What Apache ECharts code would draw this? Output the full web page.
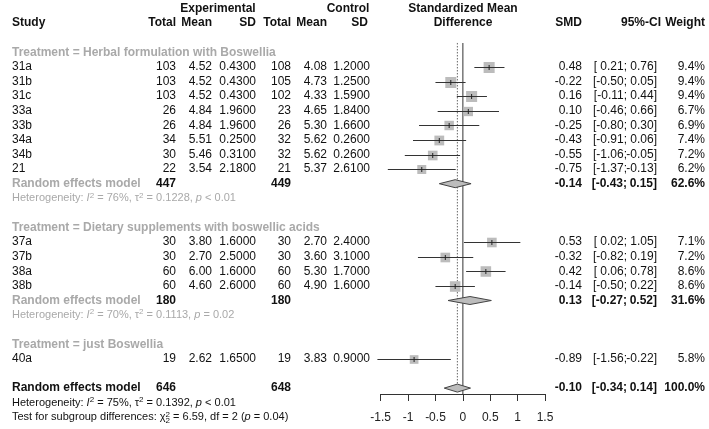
<!DOCTYPE html>
<html>
<head>
<meta charset="utf-8">
<title>Forest plot - Boswellia</title>
<script src="https://cdn.jsdelivr.net/npm/echarts@6/dist/echarts.min.js"></script>
<style>
  html, body { margin: 0; padding: 0; background: #fff; }
  #main { width: 709px; height: 429px; }
</style>
</head>
<body>
<div id="main"></div>
<script type="text/javascript">

// ---- data ----
var groupNames = ['Herbal formulation with Boswellia', 'Dietary supplements with boswellic acids', 'just Boswellia'];

var studies   = ['31a', '31b', '31c', '33a', '33b', '34a', '34b', '21', '37a', '37b', '38a', '38b', '40a'];
var studyGroup = [0, 0, 0, 0, 0, 0, 0, 0, 1, 1, 1, 1, 2];
var expTotal  = [103, 103, 103, 26, 26, 34, 30, 22, 30, 30, 60, 60, 19];
var expMean   = [4.52, 4.52, 4.52, 4.84, 4.84, 5.51, 5.46, 3.54, 3.80, 2.70, 6.00, 4.60, 2.62];
var expSD     = [0.43, 0.43, 0.43, 1.96, 1.96, 0.25, 0.31, 2.18, 1.60, 2.50, 1.60, 2.60, 1.65];
var ctlTotal  = [108, 105, 102, 23, 26, 32, 32, 21, 30, 30, 60, 60, 19];
var ctlMean   = [4.08, 4.73, 4.33, 4.65, 5.30, 5.62, 5.62, 5.37, 2.70, 3.60, 5.30, 4.90, 3.83];
var ctlSD     = [1.20, 1.25, 1.59, 1.84, 1.66, 0.26, 0.26, 2.61, 2.40, 3.10, 1.70, 1.60, 0.90];
var smd       = [0.48, -0.22, 0.16, 0.10, -0.25, -0.43, -0.55, -0.75, 0.53, -0.32, 0.42, -0.14, -0.89];
var ciLow     = [0.21, -0.50, -0.11, -0.46, -0.80, -0.91, -1.06, -1.37, 0.02, -0.82, 0.06, -0.50, -1.56];
var ciHigh    = [0.76, 0.05, 0.44, 0.66, 0.30, 0.06, -0.05, -0.13, 1.05, 0.19, 0.78, 0.22, -0.22];
var weight    = [9.4, 9.4, 9.4, 6.7, 6.9, 7.4, 7.2, 6.2, 7.1, 7.2, 8.6, 8.6, 5.8];

// subgroup random effects (groups with more than one study)
var subExpTotal = [447, 180];
var subCtlTotal = [449, 180];
var subSMD      = [-0.14, 0.13];
var subLow      = [-0.43, -0.27];
var subHigh     = [0.15, 0.52];
var subWeight   = [62.6, 31.6];
var subI2       = [76, 70];
var subTau2     = ['0.1228', '0.1113'];
var subP        = ['< 0.01', '= 0.02'];

// overall
var allExpTotal = 646, allCtlTotal = 648;
var allSMD = -0.10, allLow = -0.34, allHigh = 0.14, allWeight = 100.0;
var allI2 = 75, allTau2 = '0.1392', allP = '< 0.01';
var testChi2 = '6.59', testDf = 2, testP = '0.04';

var xTicks = [-1.5, 1.5, 0.5]; // min, max, interval

// ---- layout ----
var FONT = '"Liberation Sans", Arial, sans-serif';
var GRAY = '#a9a9a9';
var BLACK = '#111';
var col = { study: 12, eTot: 176, eMean: 212, eSD: 256, cTot: 291, cMean: 327, cSD: 370,
            smd: 582, ciLo: 627, ciHi: 657, ciHead: 661, w: 705, plot: 463 };

function font(size, bold, italic) {
    return (italic ? 'italic ' : '') + (bold ? 'bold ' : '') + size + 'px ' + FONT;
}
function f2(v) { return v.toFixed(2); }
function loTxt(v) { return '[' + (v >= 0 ? ' ' : '') + v.toFixed(2) + ';'; }
function hiTxt(v) { return v.toFixed(2) + ']'; }
function pct(v) { return v.toFixed(1) + '%'; }

function hetRich(color) {
    return {
        n:   { font: font(11), fill: color, lineHeight: 14 },
        i:   { font: font(11, false, true), fill: color, lineHeight: 14 },
        sup: { font: font(8), fill: color, lineHeight: 8, verticalAlign: 'top' },
        sup0:{ font: font(8), fill: color, lineHeight: 8, verticalAlign: 'top', width: 0 },
        sub: { font: font(8), fill: color, lineHeight: 8, verticalAlign: 'bottom' }
    };
}

// build rows
var cells = [];
function cell(row, x, text, align, size, bold, color, rich) {
    cells.push({ row: row, x: x, text: text, align: align, size: size || 12, bold: !!bold, color: color || BLACK, rich: rich });
}

// header
cell(-3, 218, 'Experimental', 'center', 12, true);
cell(-3, 348, 'Control', 'center', 12, true);
cell(-3, col.plot, 'Standardized Mean', 'center', 12, true);
cell(-2, col.plot, 'Difference', 'center', 12, true);
cell(-2, col.study, 'Study', 'left', 12, true);
cell(-2, col.eTot, 'Total', 'right', 12, true);
cell(-2, col.eMean, 'Mean', 'right', 12, true);
cell(-2, col.eSD, 'SD', 'right', 12, true);
cell(-2, col.cTot, 'Total', 'right', 12, true);
cell(-2, col.cMean, 'Mean', 'right', 12, true);
cell(-2, col.cSD - 2, 'SD', 'right', 12, true);
cell(-2, col.smd, 'SMD', 'right', 12, true);
cell(-2, col.ciHead, '95%-CI', 'right', 12, true);
cell(-2, col.w, 'Weight', 'right', 12, true);

var studyRows = [];
var subRows = [];
var r = 0;
groupNames.forEach(function (g, gi) {
    cell(r, col.study, 'Treatment = ' + g, 'left', 12, true, GRAY);
    r++;
    var n = 0;
    studies.forEach(function (s, i) {
        if (studyGroup[i] !== gi) return;
        studyRows[i] = r;
        cell(r, col.study, s, 'left');
        cell(r, col.eTot, String(expTotal[i]), 'right');
        cell(r, col.eMean, f2(expMean[i]), 'right');
        cell(r, col.eSD, expSD[i].toFixed(4), 'right');
        cell(r, col.cTot, String(ctlTotal[i]), 'right');
        cell(r, col.cMean, f2(ctlMean[i]), 'right');
        cell(r, col.cSD, ctlSD[i].toFixed(4), 'right');
        cell(r, col.smd, f2(smd[i]), 'right');
        cell(r, col.ciLo, loTxt(ciLow[i]), 'right');
        cell(r, col.ciHi, hiTxt(ciHigh[i]), 'right');
        cell(r, col.w, pct(weight[i]), 'right');
        r++; n++;
    });
    if (n > 1) {
        subRows[gi] = r;
        cell(r, col.study, 'Random effects model', 'left', 12, true, GRAY);
        cell(r, col.eTot, String(subExpTotal[gi]), 'right', 12, true);
        cell(r, col.cTot, String(subCtlTotal[gi]), 'right', 12, true);
        cell(r, col.smd, f2(subSMD[gi]), 'right', 12, true);
        cell(r, col.ciLo, loTxt(subLow[gi]), 'right', 12, true);
        cell(r, col.ciHi, hiTxt(subHigh[gi]), 'right', 12, true);
        cell(r, col.w, pct(subWeight[gi]), 'right', 12, true);
        cell(r + 1, col.study,
            '{n|Heterogeneity: }{i|I}{sup|2}{n| = ' + subI2[gi] + '%, \u03c4}{sup|2}{n| = ' + subTau2[gi] + ', }{i|p}{n| ' + subP[gi] + '}',
            'left', 11, false, GRAY, hetRich(GRAY));
        r += 2;
    }
    r++;
});
var allRow = r;
cell(allRow, col.study, 'Random effects model', 'left', 12, true);
cell(allRow, col.eTot, String(allExpTotal), 'right', 12, true);
cell(allRow, col.cTot, String(allCtlTotal), 'right', 12, true);
cell(allRow, col.smd, f2(allSMD), 'right', 12, true);
cell(allRow, col.ciLo, loTxt(allLow), 'right', 12, true);
cell(allRow, col.ciHi, hiTxt(allHigh), 'right', 12, true);
cell(allRow, col.w, pct(allWeight), 'right', 12, true);
cell(allRow + 1, col.study,
    '{n|Heterogeneity: }{i|I}{sup|2}{n| = ' + allI2 + '%, \u03c4}{sup|2}{n| = ' + allTau2 + ', }{i|p}{n| ' + allP + '}',
    'left', 11, false, BLACK, hetRich(BLACK));
cell(allRow + 2, col.study,
    '{n|Test for subgroup differences: \u03c7}{sup0|2}{sub|' + testDf + '}{n| = ' + testChi2 + ', df = ' + testDf + ' (}{i|p}{n| = ' + testP + ')}',
    'left', 11, false, BLACK, hetRich(BLACK));

var topRow = -0.64;   // where reference lines start
var axisRow = 23.4;   // where the x axis sits

// ---- chart ----
var myChart = echarts.init(document.getElementById('main'), null, { renderer: 'canvas' });

var studyData = studies.map(function (s, i) { return [smd[i], studyRows[i], ciLow[i], ciHigh[i], weight[i]]; });
var diamondData = subSMD.map(function (v, gi) { return [v, subRows[gi], subLow[gi], subHigh[gi]]; });
diamondData.push([allSMD, allRow, allLow, allHigh]);

myChart.setOption({
    animation: false,
    backgroundColor: '#fff',
    grid: [
        { left: 380.7, width: 164.3, top: 8.5, height: 14.6 * 29, outerBoundsMode: 'none', containLabel: false },
        { left: 380.7, width: 164.3, top: 393, height: 1, outerBoundsMode: 'none', containLabel: false }
    ],
    xAxis: [
        { gridIndex: 0, type: 'value', min: xTicks[0], max: xTicks[1], show: false },
        {
            gridIndex: 1, type: 'value', min: xTicks[0], max: xTicks[1], interval: xTicks[2],
            axisLine: { show: true, lineStyle: { color: '#333', width: 1 } },
            axisTick: { show: true, length: 7, lineStyle: { color: '#333' } },
            axisLabel: { color: '#222', fontSize: 12, fontFamily: FONT, margin: 18 },
            splitLine: { show: false }
        }
    ],
    yAxis: [
        { gridIndex: 0, type: 'value', min: -3, max: 26, inverse: true, show: false },
        { gridIndex: 1, type: 'value', min: 0, max: 1, show: false }
    ],
    series: [
        {
            // reference lines: no effect (solid) and overall effect (dotted)
            type: 'custom', xAxisIndex: 0, yAxisIndex: 0, z: 1,
            data: [[0, 0], [allSMD, 1]],
            renderItem: function (params, api) {
                var x = api.coord([api.value(0), 0])[0];
                var y1 = api.coord([0, topRow])[1];
                var y2 = api.coord([0, api.value(1) ? allRow : axisRow])[1];
                return {
                    type: 'line',
                    shape: { x1: x, y1: y1, x2: x, y2: y2 },
                    style: api.value(1)
                        ? { stroke: '#666', lineWidth: 1, lineDash: [1.5, 1.5] }
                        : { stroke: '#555', lineWidth: 1.2 }
                };
            }
        },
        {
            type: 'custom', xAxisIndex: 0, yAxisIndex: 0, z: 2,
            data: studyData,
            renderItem: function (params, api) {
                var y = Math.round(api.coord([0, api.value(1)])[1]) + 0.5;
                var xe = api.coord([api.value(0), 0])[0];
                var xl = api.coord([api.value(2), 0])[0];
                var xh = api.coord([api.value(3), 0])[0];
                var s = 3.6 * Math.sqrt(api.value(4));
                return {
                    type: 'group',
                    children: [
                        { type: 'rect', shape: { x: xe - s / 2, y: y - s / 2, width: s, height: s }, style: { fill: '#bcbcbc' } },
                        { type: 'line', shape: { x1: xl, y1: y, x2: xh, y2: y }, style: { stroke: '#333', lineWidth: 1 } },
                        { type: 'line', shape: { x1: xe, y1: y - 2.5, x2: xe, y2: y + 2.5 }, style: { stroke: '#222', lineWidth: 1 } }
                    ]
                };
            }
        },
        {
            type: 'custom', xAxisIndex: 0, yAxisIndex: 0, z: 3,
            data: diamondData,
            renderItem: function (params, api) {
                var y = api.coord([0, api.value(1)])[1];
                var xe = api.coord([api.value(0), 0])[0];
                var xl = api.coord([api.value(2), 0])[0];
                var xh = api.coord([api.value(3), 0])[0];
                return {
                    type: 'polygon',
                    shape: { points: [[xl, y], [xe, y - 4], [xh, y], [xe, y + 4]] },
                    style: { fill: '#bcbcbc', stroke: '#444', lineWidth: 1 }
                };
            }
        },
        {
            // table text
            type: 'custom', xAxisIndex: 0, yAxisIndex: 0, z: 4,
            data: cells.map(function (c, i) { return [0, c.row, i]; }),
            renderItem: function (params, api) {
                var c = cells[params.dataIndex];
                var y = api.coord([0, api.value(1)])[1];
                var style = {
                    text: c.text, x: c.x, y: y,
                    align: c.align, verticalAlign: 'middle',
                    font: font(c.size, c.bold), fill: c.color
                };
                if (c.rich) style.rich = c.rich;
                return { type: 'text', style: style };
            }
        }
    ]
});

</script>
</body>
</html>
